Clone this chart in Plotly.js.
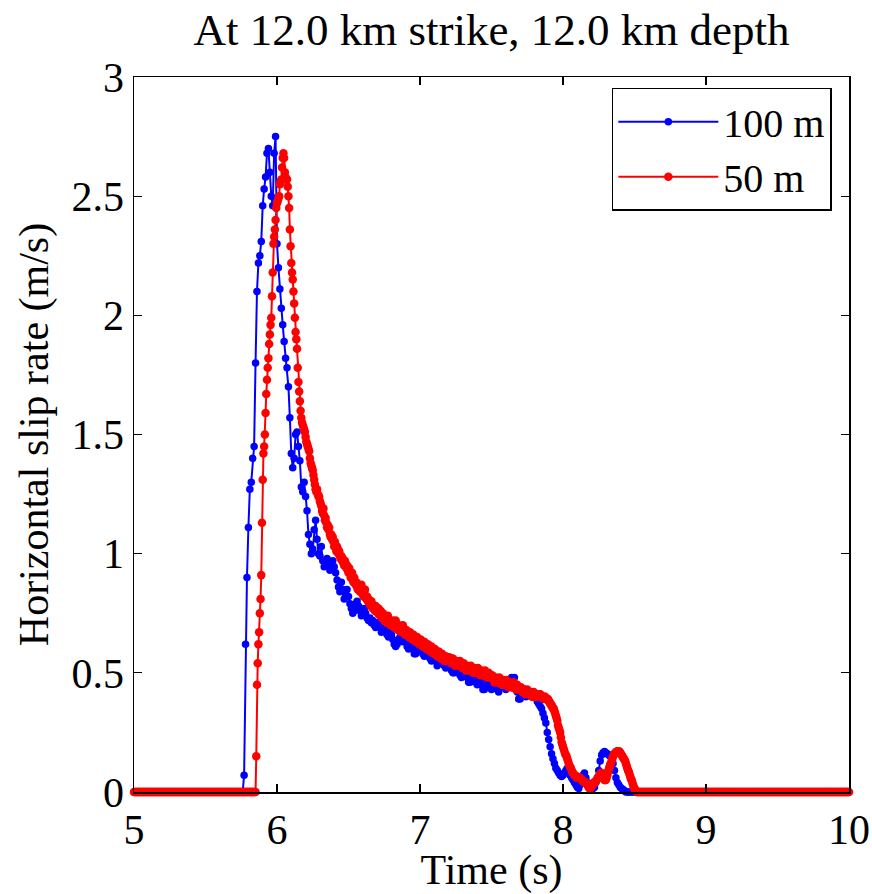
<!DOCTYPE html>
<html>
<head>
<meta charset="utf-8">
<script src="https://cdn.plot.ly/plotly-3.0.1.min.js"></script>
<style>html,body{margin:0;padding:0;background:#fff;}</style>
</head>
<body>
<div id="chart" style="width:872px;height:894px;"></div>
<script>
// ---------------- DATA ----------------
const titleText = 'At 12.0 km strike, 12.0 km depth';
const xLabel = 'Time (s)';
const yLabel = 'Horizontal slip rate (m/s)';
const seriesNames = ['100 m', '50 m'];

// 100 m run: sampled every 0.01 s from 5.00 s (one row = 0.1 s)
const blueStart = 5.0;
const blueStep = 0.01;
const blueRate = [
  0,0,0,0,0,0,0,0,0,0,            // 5.0
  0,0,0,0,0,0,0,0,0,0,            // 5.1
  0,0,0,0,0,0,0,0,0,0,            // 5.2
  0,0,0,0,0,0,0,0,0,0,            // 5.3
  0,0,0,0,0,0,0,0,0,0,            // 5.4
  0,0,0,0,0,0,0,0,0,0,            // 5.5
  0,0,0,0,0,0,0,0,0,0,            // 5.6
  0,0,0,0,0,0,0,0.07,0.62,0.90,   // 5.7
  1.11,1.27,1.30,1.40,1.45,1.80,2.10,2.22,2.25,2.31, // 5.8
  2.46,2.53,2.58,2.68,2.70,2.60,2.50,2.46,2.68,2.75, // 5.9
  2.30,2.20,2.11,2.03,1.96,1.89,1.82,1.78,1.70,1.57, // 6.0
  1.42,1.36,1.40,1.50,1.51,1.45,1.39,1.28,1.26,1.30, // 6.1
  1.24,1.18,1.08,1.04,1.00,1.02,1.10,1.14,1.06,1.00, // 6.2
  0.99,1.03,0.97,0.945,0.96,0.98,0.95,0.93,0.95,0.97, // 6.3
  0.945,0.92,0.89,0.86,0.84,0.88,0.85,0.81,0.83,0.85, // 6.4
  0.82,0.79,0.77,0.75,0.76,0.79,0.80,0.78,0.76,0.74, // 6.5
  0.75,0.77,0.75,0.73,0.72,0.73,0.71,0.72,0.70,0.69, // 6.6
  0.71,0.70,0.69,0.67,0.68,0.70,0.68,0.66,0.65,0.67, // 6.7
  0.66,0.64,0.62,0.61,0.62,0.64,0.65,0.64,0.63,0.65, // 6.8
  0.63,0.61,0.60,0.61,0.62,0.60,0.58,0.58,0.59,0.60, // 6.9
  0.61,0.60,0.58,0.57,0.58,0.59,0.58,0.56,0.55,0.56, // 7.0
  0.57,0.55,0.53,0.54,0.56,0.56,0.54,0.53,0.52,0.53, // 7.1
  0.54,0.53,0.51,0.50,0.50,0.52,0.53,0.51,0.49,0.48, // 7.2
  0.49,0.51,0.50,0.48,0.46,0.46,0.48,0.49,0.48,0.46, // 7.3
  0.45,0.46,0.47,0.45,0.43,0.43,0.45,0.47,0.46,0.44, // 7.4
  0.43,0.44,0.46,0.45,0.43,0.42,0.44,0.46,0.47,0.45, // 7.5
  0.43,0.44,0.46,0.47,0.48,0.47,0.48,0.45,0.42,0.39, // 7.6
  0.39,0.41,0.42,0.41,0.40,0.41,0.42,0.41,0.40,0.40, // 7.7
  0.41,0.40,0.38,0.37,0.36,0.35,0.33,0.31,0.29,0.25, // 7.8
  0.22,0.19,0.16,0.14,0.12,0.10,0.09,0.08,0.07,0.065, // 7.9
  0.07,0.08,0.09,0.10,0.09,0.07,0.06,0.05,0.04,0.03, // 8.0
  0.02,0.015,0.03,0.05,0.07,0.08,0.06,0.04,0.03,0.02, // 8.1
  0.02,0.015,0.02,0.04,0.06,0.09,0.13,0.155,0.165,0.17, // 8.2
  0.165,0.16,0.155,0.15,0.14,0.12,0.09,0.06,0.04,0.03, // 8.3
  0.02,0.015,0.01,0.005,0,0,0,0,0,0, // 8.4
  0,0,0,0,0,0,0,0,0,0,            // 8.5
  0,0,0,0,0,0,0,0,0,0,            // 8.6
  0,0,0,0,0,0,0,0,0,0,            // 8.7
  0,0,0,0,0,0,0,0,0,0,            // 8.8
  0,0,0,0,0,0,0,0,0,0,            // 8.9
  0,0,0,0,0,0,0,0,0,0,            // 9.0
  0,0,0,0,0,0,0,0,0,0,            // 9.1
  0,0,0,0,0,0,0,0,0,0,            // 9.2
  0,0,0,0,0,0,0,0,0,0,            // 9.3
  0,0,0,0,0,0,0,0,0,0,            // 9.4
  0,0,0,0,0,0,0,0,0,0,            // 9.5
  0,0,0,0,0,0,0,0,0,0,            // 9.6
  0,0,0,0,0,0,0,0,0,0,            // 9.7
  0,0,0,0,0,0,0,0,0,0,            // 9.8
  0,0,0,0,0,0,0,0,0,0,            // 9.9
  0                                // 10.0
];

// 50 m run: sampled every 0.005 s from 5.000 s (one row = 0.05 s)
const redStart = 5.0;
const redStep = 0.005;
const redRate = [
  0,0,0,0,0,0,0,0,0,0, // 5.00
  0,0,0,0,0,0,0,0,0,0, // 5.05
  0,0,0,0,0,0,0,0,0,0, // 5.10
  0,0,0,0,0,0,0,0,0,0, // 5.15
  0,0,0,0,0,0,0,0,0,0, // 5.20
  0,0,0,0,0,0,0,0,0,0, // 5.25
  0,0,0,0,0,0,0,0,0,0, // 5.30
  0,0,0,0,0,0,0,0,0,0, // 5.35
  0,0,0,0,0,0,0,0,0,0, // 5.40
  0,0,0,0,0,0,0,0,0,0, // 5.45
  0,0,0,0,0,0,0,0,0,0, // 5.50
  0,0,0,0,0,0,0,0,0,0, // 5.55
  0,0,0,0,0,0,0,0,0,0, // 5.60
  0,0,0,0,0,0,0,0,0,0, // 5.65
  0,0,0,0,0,0,0,0,0,0, // 5.70
  0,0,0,0,0,0,0,0,0,0, // 5.75
  0,0,0,0,0,0,0,0,0,0, // 5.80
  0,0.15,0.45,0.54,0.62,0.67,0.75,0.81,0.91,1.13, // 5.85
  1.31,1.42,1.45,1.50,1.59,1.67,1.73,1.78,1.82,1.88, // 5.90
  1.92,1.96,1.99,2.08,2.18,2.30,2.33,2.36,2.40,2.45, // 5.95
  2.47,2.48,2.49,2.50,2.55,2.56,2.57,2.62,2.66,2.68, // 6.00
  2.66,2.60,2.58,2.57,2.57,2.54,2.50,2.45,2.36,2.29, // 6.05
  2.22,2.18,2.15,2.10,2.05,1.99,1.93,1.90,1.86,1.78, // 6.10
  1.72,1.68,1.64,1.60,1.57,1.55,1.54,1.53,1.52,1.51, // 6.15
  1.49,1.47,1.46,1.45,1.44,1.43,1.40,1.38,1.37,1.36, // 6.20
  1.35,1.33,1.31,1.29,1.27,1.26,1.27,1.25,1.24,1.24, // 6.25
  1.22,1.21,1.20,1.18,1.17,1.19,1.16,1.14,1.15,1.13, // 6.30
  1.11,1.12,1.10,1.11,1.08,1.07,1.08,1.06,1.07,1.05, // 6.35
  1.03,1.05,1.03,1.01,1.03,1.02,1.00,1.01,0.99,0.98, // 6.40
  0.99,0.97,0.98,0.96,0.95,0.97,0.96,0.94,0.95,0.93, // 6.45
  0.92,0.94,0.92,0.90,0.91,0.92,0.89,0.88,0.90,0.88, // 6.50
  0.87,0.88,0.86,0.85,0.87,0.85,0.84,0.86,0.87,0.84, // 6.55
  0.83,0.82,0.84,0.85,0.82,0.81,0.82,0.80,0.81,0.80, // 6.60
  0.79,0.78,0.80,0.79,0.77,0.78,0.77,0.76,0.78,0.77, // 6.65
  0.76,0.75,0.77,0.75,0.74,0.76,0.74,0.73,0.75,0.73, // 6.70
  0.72,0.74,0.73,0.71,0.72,0.74,0.72,0.71,0.72,0.70, // 6.75
  0.70,0.71,0.72,0.70,0.69,0.71,0.72,0.70,0.69,0.68, // 6.80
  0.69,0.70,0.69,0.68,0.67,0.69,0.70,0.68,0.67,0.66, // 6.85
  0.67,0.68,0.67,0.66,0.65,0.66,0.67,0.66,0.65,0.64, // 6.90
  0.65,0.66,0.65,0.64,0.63,0.64,0.65,0.64,0.63,0.62, // 6.95
  0.63,0.64,0.63,0.62,0.61,0.62,0.63,0.62,0.61,0.60, // 7.00
  0.61,0.62,0.61,0.60,0.59,0.60,0.61,0.60,0.59,0.58, // 7.05
  0.59,0.60,0.59,0.58,0.57,0.58,0.59,0.58,0.57,0.56, // 7.10
  0.57,0.58,0.57,0.56,0.55,0.56,0.57,0.56,0.55,0.55, // 7.15
  0.56,0.565,0.56,0.55,0.54,0.55,0.56,0.55,0.54,0.53, // 7.20
  0.54,0.55,0.54,0.53,0.53,0.54,0.55,0.54,0.53,0.52, // 7.25
  0.53,0.54,0.53,0.52,0.51,0.52,0.53,0.52,0.51,0.51, // 7.30
  0.52,0.53,0.52,0.51,0.50,0.51,0.52,0.51,0.50,0.50, // 7.35
  0.51,0.52,0.51,0.50,0.49,0.50,0.51,0.50,0.49,0.49, // 7.40
  0.50,0.51,0.50,0.49,0.48,0.49,0.50,0.49,0.48,0.48, // 7.45
  0.48,0.49,0.48,0.47,0.46,0.47,0.48,0.47,0.46,0.46, // 7.50
  0.47,0.48,0.47,0.46,0.45,0.46,0.47,0.46,0.45,0.45, // 7.55
  0.46,0.47,0.46,0.45,0.44,0.45,0.46,0.45,0.44,0.44, // 7.60
  0.45,0.46,0.45,0.44,0.43,0.44,0.45,0.44,0.43,0.43, // 7.65
  0.43,0.44,0.43,0.42,0.42,0.43,0.43,0.42,0.41,0.42, // 7.70
  0.43,0.42,0.41,0.41,0.42,0.42,0.41,0.40,0.41,0.42, // 7.75
  0.41,0.40,0.40,0.41,0.41,0.40,0.40,0.41,0.41,0.40, // 7.80
  0.40,0.40,0.40,0.39,0.40,0.40,0.39,0.39,0.39,0.39, // 7.85
  0.38,0.38,0.37,0.37,0.36,0.36,0.35,0.35,0.34,0.33, // 7.90
  0.32,0.31,0.30,0.28,0.27,0.26,0.25,0.23,0.21,0.20, // 7.95
  0.19,0.18,0.17,0.16,0.155,0.15,0.14,0.13,0.12,0.11, // 8.00
  0.105,0.10,0.09,0.085,0.08,0.075,0.07,0.07,0.065,0.06, // 8.05
  0.06,0.06,0.06,0.06,0.06,0.055,0.05,0.05,0.045,0.045, // 8.10
  0.04,0.04,0.04,0.035,0.03,0.025,0.02,0.015,0.015,0.02, // 8.15
  0.025,0.03,0.035,0.04,0.04,0.04,0.045,0.05,0.055,0.06, // 8.20
  0.065,0.07,0.075,0.08,0.08,0.07,0.06,0.055,0.05,0.05, // 8.25
  0.05,0.06,0.07,0.085,0.095,0.105,0.115,0.12,0.13,0.14, // 8.30
  0.15,0.155,0.16,0.165,0.165,0.17,0.17,0.17,0.17,0.17, // 8.35
  0.165,0.16,0.155,0.15,0.145,0.14,0.135,0.13,0.12,0.11, // 8.40
  0.10,0.09,0.085,0.075,0.065,0.055,0.05,0.04,0.03,0.02, // 8.45
  0.015,0.01,0.005,0,0,0,0,0,0,0, // 8.50
  0,0,0,0,0,0,0,0,0,0, // 8.55
  0,0,0,0,0,0,0,0,0,0, // 8.60
  0,0,0,0,0,0,0,0,0,0, // 8.65
  0,0,0,0,0,0,0,0,0,0, // 8.70
  0,0,0,0,0,0,0,0,0,0, // 8.75
  0,0,0,0,0,0,0,0,0,0, // 8.80
  0,0,0,0,0,0,0,0,0,0, // 8.85
  0,0,0,0,0,0,0,0,0,0, // 8.90
  0,0,0,0,0,0,0,0,0,0, // 8.95
  0,0,0,0,0,0,0,0,0,0, // 9.00
  0,0,0,0,0,0,0,0,0,0, // 9.05
  0,0,0,0,0,0,0,0,0,0, // 9.10
  0,0,0,0,0,0,0,0,0,0, // 9.15
  0,0,0,0,0,0,0,0,0,0, // 9.20
  0,0,0,0,0,0,0,0,0,0, // 9.25
  0,0,0,0,0,0,0,0,0,0, // 9.30
  0,0,0,0,0,0,0,0,0,0, // 9.35
  0,0,0,0,0,0,0,0,0,0, // 9.40
  0,0,0,0,0,0,0,0,0,0, // 9.45
  0,0,0,0,0,0,0,0,0,0, // 9.50
  0,0,0,0,0,0,0,0,0,0, // 9.55
  0,0,0,0,0,0,0,0,0,0, // 9.60
  0,0,0,0,0,0,0,0,0,0, // 9.65
  0,0,0,0,0,0,0,0,0,0, // 9.70
  0,0,0,0,0,0,0,0,0,0, // 9.75
  0,0,0,0,0,0,0,0,0,0, // 9.80
  0,0,0,0,0,0,0,0,0,0, // 9.85
  0,0,0,0,0,0,0,0,0,0, // 9.90
  0,0,0,0,0,0,0,0,0,0, // 9.95
  0                    // 10.00
];

const xTicks = [5, 6, 7, 8, 9, 10];
const yTicks = [0, 0.5, 1, 1.5, 2, 2.5, 3];
const yTickText = ['0', '0.5', '1', '1.5', '2', '2.5', '3'];

// ---------------- CHART ----------------
function sampleTimes(start, step, n) {
  const t = [];
  for (let i = 0; i < n; i++) t.push(Math.round((start + i * step) * 1e6) / 1e6);
  return t;
}

const FONT = '"Liberation Serif", "Times New Roman", Times, serif';

const traces = [
  {
    x: sampleTimes(blueStart, blueStep, blueRate.length),
    y: blueRate,
    name: seriesNames[0],
    type: 'scatter',
    mode: 'lines+markers',
    line: {color: '#0000ff', width: 2},
    marker: {color: '#0000ff', size: 7.5},
    cliponaxis: false
  },
  {
    x: sampleTimes(redStart, redStep, redRate.length),
    y: redRate,
    name: seriesNames[1],
    type: 'scatter',
    mode: 'lines+markers',
    line: {color: '#ff0000', width: 2},
    marker: {color: '#ff0000', size: 8.5},
    cliponaxis: false
  }
];

const axisCommon = {
  showline: true, linecolor: 'black', linewidth: 1.5,
  mirror: 'allticks', ticks: 'inside', ticklen: 8, tickwidth: 1.2, tickcolor: 'black',
  showgrid: false, zeroline: false,
  tickfont: {family: FONT, size: 42, color: 'black'}
};

const layout = {
  width: 872, height: 894,
  margin: {l: 134, r: 23, t: 77, b: 102, pad: 0},
  paper_bgcolor: 'white', plot_bgcolor: 'white',
  font: {family: FONT, color: 'black', size: 42},
  title: {
    text: titleText,
    font: {family: FONT, size: 45, color: 'black'},
    xref: 'paper', x: 0.5, xanchor: 'center',
    yref: 'container', y: 0.967, yanchor: 'middle'
  },
  xaxis: Object.assign({}, axisCommon, {
    range: [5, 10], tickvals: xTicks, ticktext: xTicks.map(String),
    title: {text: xLabel, font: {family: FONT, size: 42, color: 'black'}, standoff: 0}
  }),
  yaxis: Object.assign({}, axisCommon, {
    range: [0, 3], tickvals: yTicks, ticktext: yTickText,
    title: {text: yLabel, font: {family: FONT, size: 42, color: 'black'}, standoff: 10}
  }),
  showlegend: true,
  legend: {
    x: 0.976, xanchor: 'right', y: 0.985, yanchor: 'top',
    bgcolor: 'white', bordercolor: 'black', borderwidth: 1.5,
    font: {family: FONT, size: 40, color: 'black'},
    itemwidth: 100, tracegroupgap: 0
  }
};

Plotly.newPlot('chart', traces, layout, {displayModeBar: false, staticPlot: true});
</script>
</body>
</html>
